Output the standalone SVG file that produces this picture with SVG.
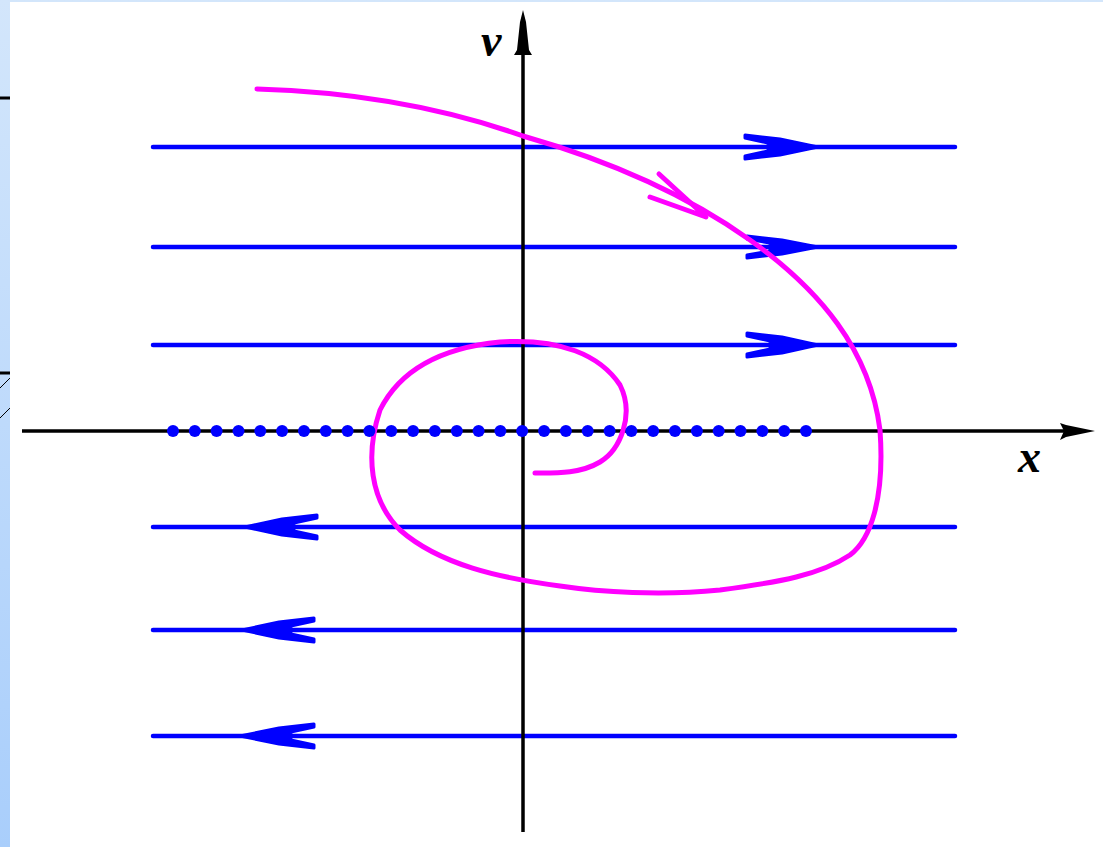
<svg xmlns="http://www.w3.org/2000/svg" width="1103" height="847" viewBox="0 0 1103 847">
<defs>
<linearGradient id="bg" x1="0" y1="0" x2="0" y2="1">
<stop offset="0" stop-color="#d3e6fb"/>
<stop offset="1" stop-color="#a9cefb"/>
</linearGradient>
<style>
.flow{stroke:#0000ff;stroke-width:4.5;fill:none;stroke-linecap:round}
.ah{fill:#0000ff;stroke:#0000ff;stroke-width:3;stroke-linejoin:round}
.axis{stroke:#000;stroke-width:3.5;fill:none}
.dot{fill:#0000ff}
.spiral{stroke:#ff00ff;stroke-width:5;fill:none;stroke-linecap:round;stroke-linejoin:round}
.lbl{font-family:"Liberation Serif",serif;font-style:italic;font-weight:bold;font-size:46px;fill:#000}
</style>
</defs>
<rect width="1103" height="847" fill="url(#bg)"/>
<rect x="10" y="2" width="1093" height="845" fill="#fff"/>
<g id="edge-marks" stroke="#000" fill="none">
<line x1="0" y1="98" x2="10" y2="98" stroke-width="3"/>
<line x1="0" y1="373" x2="10" y2="373" stroke-width="3"/>
<line x1="0" y1="388" x2="10" y2="378" stroke-width="1"/>
<line x1="0" y1="418" x2="10" y2="408" stroke-width="1"/>
</g>
<g id="connectors">
<g id="flow-lines">
<line class="flow" x1="153" y1="147" x2="955" y2="147"/>
<line class="flow" x1="153" y1="247" x2="955" y2="247"/>
<line class="flow" x1="153" y1="345" x2="955" y2="345"/>
<line class="flow" x1="153" y1="527" x2="955" y2="527"/>
<line class="flow" x1="153" y1="630" x2="955" y2="630"/>
<line class="flow" x1="153" y1="736" x2="955" y2="736"/>
</g>
<g id="right-arrows">
<path class="ah" d="M745,135 L780,139 L818,147 L780,155 L745,159 L745,156 L768,151 L768,143 L745,138 Z"/>
<path class="ah" d="M747,236 L782,240 L818,247 L782,254 L747,258 L747,255 L770,251 L770,243 L747,239 Z"/>
<path class="ah" d="M747,333 L782,337 L818,345 L782,353 L747,357 L747,354 L770,349 L770,341 L747,336 Z"/>
</g>
<g id="left-arrows">
<path class="ah" d="M317,515 L282,519 L245,527 L282,535 L317,539 L317,536 L294,531 L294,523 L317,518 Z"/>
<path class="ah" d="M314,618 L279,622 L242,630 L279,638 L314,642 L314,639 L291,634 L291,626 L314,621 Z"/>
<path class="ah" d="M314,724 L279,728 L240,736 L279,744 L314,748 L314,745 L291,740 L291,732 L314,727 Z"/>
</g>
<g id="axes">
<line class="axis" x1="22" y1="431" x2="1085" y2="431"/>
<path d="M1060,423 L1066,425 L1095,431 L1066,437 L1060,440 L1064,431 Z" fill="#000"/>
<line class="axis" x1="523" y1="50" x2="523" y2="832"/>
<path d="M523,10 L526,22 L529,50 L532,55 L514,55 L517,50 L520,22 Z" fill="#000"/>
</g>
<g id="spiral">
<path class="spiral" d="M257,89 C360,92 450,110 523,136 C600,158 680,190 750,240 C820,290 870,350 880,430 C885,500 870,540 850,555 C820,575 780,582 720,590 C660,596 600,592 560,586 C500,578 440,565 400,530 C370,500 365,455 380,410 C400,370 440,348 500,342 C560,338 600,355 620,385 C635,415 620,450 600,462 C580,474 555,473 535,473"/>
<path class="spiral" d="M650,197 L706,217 L659,174"/>
</g>
<g id="equilibria">
<circle class="dot" cx="173" cy="431" r="6"/><circle class="dot" cx="194.8" cy="431" r="6"/><circle class="dot" cx="216.6" cy="431" r="6"/><circle class="dot" cx="238.5" cy="431" r="6"/><circle class="dot" cx="260.3" cy="431" r="6"/><circle class="dot" cx="282.1" cy="431" r="6"/><circle class="dot" cx="304" cy="431" r="6"/><circle class="dot" cx="325.8" cy="431" r="6"/><circle class="dot" cx="347.6" cy="431" r="6"/><circle class="dot" cx="369.4" cy="431" r="6"/><circle class="dot" cx="391.3" cy="431" r="6"/><circle class="dot" cx="413.1" cy="431" r="6"/><circle class="dot" cx="434.9" cy="431" r="6"/><circle class="dot" cx="456.8" cy="431" r="6"/><circle class="dot" cx="478.6" cy="431" r="6"/><circle class="dot" cx="500.4" cy="431" r="6"/><circle class="dot" cx="522.2" cy="431" r="6"/><circle class="dot" cx="544.1" cy="431" r="6"/><circle class="dot" cx="565.9" cy="431" r="6"/><circle class="dot" cx="587.7" cy="431" r="6"/><circle class="dot" cx="609.6" cy="431" r="6"/><circle class="dot" cx="631.4" cy="431" r="6"/><circle class="dot" cx="653.2" cy="431" r="6"/><circle class="dot" cx="675" cy="431" r="6"/><circle class="dot" cx="696.9" cy="431" r="6"/><circle class="dot" cx="718.7" cy="431" r="6"/><circle class="dot" cx="740.5" cy="431" r="6"/><circle class="dot" cx="762.4" cy="431" r="6"/><circle class="dot" cx="784.2" cy="431" r="6"/><circle class="dot" cx="806" cy="431" r="6"/>
</g>
</g>
<g id="label-v"><text class="lbl" x="481" y="56">v</text></g>
<g id="label-x"><text class="lbl" x="1018" y="472">x</text></g>
</svg>
